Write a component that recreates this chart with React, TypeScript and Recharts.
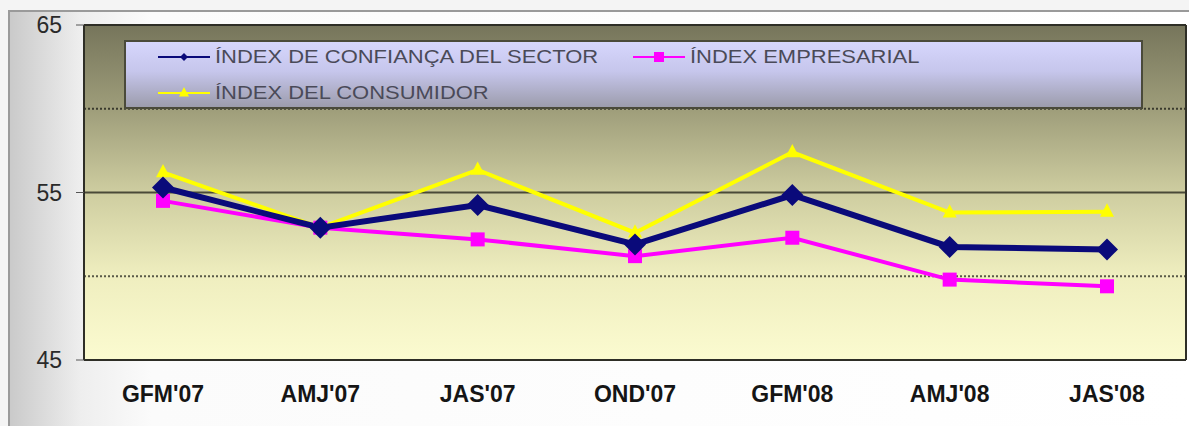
import { LineChart, Line, XAxis, YAxis, ReferenceLine, CartesianGrid } from 'recharts';

// trimestres
const periodes = ["GFM'07", "AMJ'07", "JAS'07", "OND'07", "GFM'08", "AMJ'08", "JAS'08"];
const indexSector = [55.3, 52.9, 54.25, 51.9, 54.85, 51.75, 51.6];
const indexEmpresarial = [54.5, 52.9, 52.2, 51.2, 52.3, 49.8, 49.4];
const indexConsumidor = [56.2, 52.9, 56.35, 52.6, 57.4, 53.8, 53.85];
const ticksY = [45, 55, 65];

const series = [
  { clau: 'sector', nom: 'ÍNDEX DE CONFIANÇA DEL SECTOR', color: '#0a0a7a', gruix: 6, marca: 'diamond' },
  { clau: 'empresarial', nom: 'ÍNDEX EMPRESARIAL', color: '#ff00ff', gruix: 4, marca: 'square' },
  { clau: 'consumidor', nom: 'ÍNDEX DEL CONSUMIDOR', color: '#ffff00', gruix: 4, marca: 'triangle' },
];

const dades = periodes.map((p, i) => ({
  periode: p,
  sector: indexSector[i],
  empresarial: indexEmpresarial[i],
  consumidor: indexConsumidor[i],
}));

const font = 'Arial, "Liberation Sans", sans-serif';

const Marca = ({ cx, cy, tipus, color, mida }: any) => {
  if (cx == null || cy == null) return null;
  const m = mida;
  if (tipus === 'diamond') {
    return <polygon points={`${cx},${cy - m} ${cx + m},${cy} ${cx},${cy + m} ${cx - m},${cy}`} fill={color} />;
  }
  if (tipus === 'square') {
    return <rect x={cx - m} y={cy - m} width={m * 2} height={m * 2} fill={color} />;
  }
  return <polygon points={`${cx},${cy - m * 1.2} ${cx + m},${cy + m * 0.7} ${cx - m},${cy + m * 0.7}`} fill={color} />;
};

// posicions de la llegenda dins la caixa
const posLlegenda = [
  { x: 34, y: 15 },
  { x: 509, y: 15 },
  { x: 34, y: 51 },
];

const Llegenda = () => (
  <div
    style={{
      position: 'absolute',
      left: 124,
      top: 40,
      width: 1019,
      height: 69,
      boxSizing: 'border-box',
      border: '2px solid #4a4a3a',
      background: 'linear-gradient(to bottom, #d6d6fc 0%, #c6c6ec 45%, #9c9cac 100%)',
      fontFamily: font,
      fontSize: 18,
      color: '#4a4a58',
    }}
  >
    {series.map((s, i) => (
      <div key={s.clau} style={{ position: 'absolute', left: posLlegenda[i].x - 2, top: posLlegenda[i].y - 13, height: 26, display: 'flex', alignItems: 'center' }}>
        <svg width={52} height={14} style={{ marginRight: 5 }}>
          <line x1={0} y1={7} x2={52} y2={7} stroke={s.color} strokeWidth={2} />
          <Marca cx={26} cy={7} tipus={s.marca} color={s.color} mida={s.marca === 'diamond' ? 4 : 5} />
        </svg>
        <span style={{ display: 'inline-block', transform: 'scaleX(1.22)', transformOrigin: 'left center', whiteSpace: 'nowrap' }}>{s.nom}</span>
      </div>
    ))}
  </div>
);

export default function App() {
  return (
    <div style={{ position: 'absolute', left: 0, top: 0, width: 1189, height: 426, background: '#f4f4f4', overflow: 'hidden' }}>
      <div
        style={{
          position: 'absolute',
          left: 8,
          top: 10,
          width: 1181,
          height: 416,
          borderLeft: '2px solid #9a9a9a',
          borderTop: '2px solid #9a9a9a',
          boxSizing: 'border-box',
          background: 'linear-gradient(to right, #cacaca 0%, #eeeeee 6%, #fbfbfb 12%, #ffffff 100%)',
        }}
      />
      <div style={{ position: 'absolute', left: 0, top: 0 }}>
        <LineChart width={1189} height={426} data={dades} margin={{ top: 25, right: 2, left: 24, bottom: 26 }}>
          <defs>
            <linearGradient id="fonsPlot" x1="0" y1="0" x2="0" y2="1">
              <stop offset="0%" stopColor="#76755b" />
              <stop offset="25%" stopColor="#9e9d7a" />
              <stop offset="50%" stopColor="#cecda0" />
              <stop offset="75%" stopColor="#efeebf" />
              <stop offset="100%" stopColor="#fbfbd0" />
            </linearGradient>
          </defs>
          <CartesianGrid horizontal={false} vertical={false} fill="url(#fonsPlot)" fillOpacity={1} />
          <ReferenceLine y={65} stroke="#2e2e26" strokeWidth={2} />
          <ReferenceLine y={60} stroke="#3a3a2e" strokeWidth={2} strokeDasharray="2 2" />
          <ReferenceLine y={55} stroke="#4a4a38" strokeWidth={2} />
          <ReferenceLine y={50} stroke="#5a5a48" strokeWidth={2} strokeDasharray="2 2" />
          <XAxis
            dataKey="periode"
            height={40}
            padding={{ left: 79, right: 79 }}
            axisLine={{ stroke: '#2e2e26', strokeWidth: 2 }}
            tickLine={false}
            tickMargin={20}
            tick={{ fill: '#151515', fontSize: 23, fontWeight: 'bold', fontFamily: font }}
          />
          <YAxis
            domain={[45, 65]}
            ticks={ticksY}
            width={60}
            axisLine={{ stroke: '#2e2e26', strokeWidth: 2 }}
            tickLine={{ stroke: '#555' }}
            tickSize={8}
            tickMargin={14}
            tick={{ fill: '#2a2a2a', fontSize: 23, fontFamily: font }}
          />
          <YAxis
            yAxisId="dreta"
            orientation="right"
            domain={[45, 65]}
            width={1}
            tick={false}
            tickLine={false}
            axisLine={{ stroke: '#2e2e26', strokeWidth: 2 }}
          />
          {[...series].reverse().map((s) => (
            <Line
              key={s.clau}
              dataKey={s.clau}
              name={s.nom}
              type="linear"
              stroke={s.color}
              strokeWidth={s.gruix}
              isAnimationActive={false}
              dot={(p: any) => (
                <Marca key={`${s.clau}-${p.index}`} cx={p.cx} cy={p.cy} tipus={s.marca} color={s.color} mida={s.marca === 'diamond' ? 11 : 7} />
              )}
              activeDot={false}
            />
          ))}
        </LineChart>
      </div>
      <Llegenda />
    </div>
  );
}
